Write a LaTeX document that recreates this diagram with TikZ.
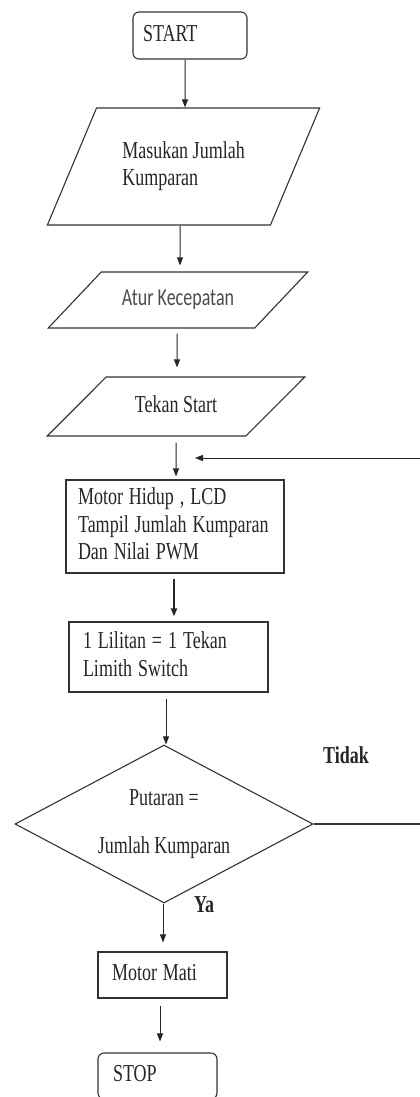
\documentclass[tikz,border=0pt]{standalone}
\usepackage{fontspec}
\setmainfont{Liberation Serif}
\newfontfamily\calibfont{Carlito}
\usepackage{graphicx}
\usetikzlibrary{shapes.geometric,arrows.meta}
\newcommand\txtl[1]{\scalebox{1}[1.35]{\begin{tabular}{@{}l@{}}#1\end{tabular}}}
\newcommand\txtc[1]{\scalebox{1}[1.35]{\begin{tabular}{@{}c@{}}#1\end{tabular}}}
\begin{document}
\begin{tikzpicture}[x=1pt,y=-1pt,
  every node/.style={font=\fontsize{18}{20.5}\selectfont, text=black!85},
  ln/.style={draw=black!80, line width=1.1pt},
  boxnode/.style={ln, rectangle, align=left, inner ysep=0pt},
  io/.style={ln, trapezium, trapezium stretches=true, inner sep=4pt},
  term/.style={ln, rectangle, rounded corners=6pt, align=left, inner ysep=0pt},
  arr/.style={draw=black!85, line width=1pt, -{Triangle[length=8pt,width=6pt]}},
  lbl/.style={font=\fontsize{18}{20.5}\selectfont\bfseries}
]
\fill[white] (0,0) rectangle (420,1097);
\useasboundingbox (0,0) rectangle (420,1097);

\node[term, minimum height=47, text width=94, inner xsep=10] (start) at (190,35.5) {\txtl{START}};
\node[io, trapezium left angle=59.8, trapezium right angle=120.2, minimum width=273, minimum height=117] (p1) at (183.5,166.5) {\txtl{Masukan Jumlah\\Kumparan}};
\node[io, trapezium left angle=40.7, trapezium right angle=139.3, minimum width=260, minimum height=56, text=black!70] (p2) at (178,300) {\calibfont\txtl{Atur Kecepatan}};
\node[io, trapezium left angle=43.1, trapezium right angle=136.9, minimum width=258, minimum height=59] (p3) at (176,406.5) {\txtl{Tekan Start}};
\node[boxnode, text width=194, inner xsep=12, minimum height=93] (b1) at (175,526.5) {\txtl{Motor Hidup , LCD\\Tampil Jumlah Kumparan\\Dan Nilai PWM}};
\node[boxnode, text width=171, inner xsep=14, minimum height=70] (b2) at (168.5,657) {\txtl{1 Lilitan = 1 Tekan\\Limith Switch}};
\node[ln, diamond, aspect=1.886, minimum width=298, minimum height=158, inner sep=0pt] (d) at (164,824) {\txtc{Putaran =\\[15pt]Jumlah Kumparan}};
\node[boxnode, text width=101, inner xsep=14, minimum height=46] (mati) at (162.5,975) {\txtl{Motor Mati}};
\node[term, text width=89, inner xsep=15, minimum height=46] (stop) at (157.5,1076) {\txtl{STOP}};

\node[lbl] (tidak) at (346,758) {\txtl{Tidak}};
\node[lbl] (ya) at (204,907) {\txtl{Ya}};

\coordinate (rt1) at (420,824);
\coordinate (rt2) at (420,458);
\coordinate (lt) at (195,458);

\draw[arr] ([xshift=-5]start.south) -- ([xshift=1.5]p1.north);
\draw[arr, shorten >=6pt] ([xshift=-3.5]p1.south) -- ([xshift=2]p2.north);
\draw[arr, shorten <=5pt, shorten >=9pt] ([xshift=-1]p2.south) -- ([xshift=1]p3.north);
\draw[arr, shorten <=6pt, shorten >=3pt] (p3.south) -- ([xshift=1]b1.north);
\draw[arr, line width=2pt, shorten <=5pt, shorten >=5pt] ([xshift=-1]b1.south) -- ([xshift=5.5]b2.north);
\draw[arr, shorten <=6pt] ([xshift=-2.5]b2.south) -- ([xshift=2]d.north);
\draw[arr, shorten >=9pt] ([xshift=-1]d.south) -- ([xshift=0.5]mati.north);
\draw[arr, shorten <=7pt, shorten >=11pt] ([xshift=-2.5]mati.south) -- ([xshift=2.5]stop.north);
\draw[ln] (d.east) -- (rt1);
\draw[arr] (rt2) -- (lt);
\end{tikzpicture}
\end{document}
